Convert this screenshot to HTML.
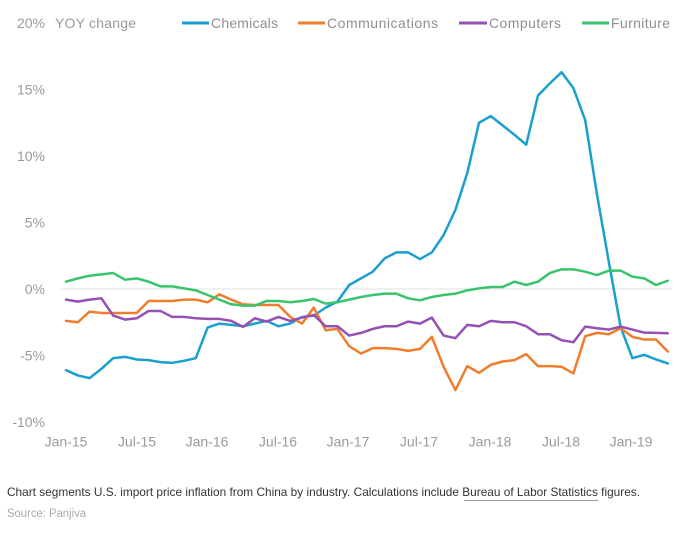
<!DOCTYPE html>
<html><head><meta charset="utf-8"><style>
html,body{margin:0;padding:0;background:#fff;}
svg{display:block;}
text{font-family:"Liberation Sans",sans-serif;}
</style></head><body>
<svg width="700" height="536" viewBox="0 0 700 536" xmlns="http://www.w3.org/2000/svg">
<rect width="700" height="536" fill="#fff"/>
<!-- y labels -->
<g font-size="14" fill="#9a9a9a" text-anchor="end">
<text x="45" y="28">20%</text>
<text x="45" y="94.5">15%</text>
<text x="45" y="161">10%</text>
<text x="45" y="227.5">5%</text>
<text x="45" y="294">0%</text>
<text x="45" y="360.5">-5%</text>
<text x="45" y="427">-10%</text>
</g>
<text x="55" y="28" font-size="14" fill="#9a9a9a" textLength="81">YOY change</text>
<!-- legend -->
<g stroke-width="3">
<line x1="182" y1="23" x2="209" y2="23" stroke="#1a9fd0"/>
<line x1="298" y1="23" x2="325" y2="23" stroke="#ef7d2d"/>
<line x1="459" y1="23" x2="487" y2="23" stroke="#9450b5"/>
<line x1="582" y1="23" x2="609" y2="23" stroke="#38c46c"/>
</g>
<g font-size="14" fill="#8f8f8f">
<text x="211" y="28" textLength="67">Chemicals</text>
<text x="327" y="28" textLength="111">Communications</text>
<text x="489" y="28" textLength="72">Computers</text>
<text x="611" y="28" textLength="59">Furniture</text>
</g>
<!-- zero line -->
<line x1="60" y1="289" x2="672" y2="289" stroke="#e2e2e2" stroke-width="1"/>
<!-- series -->
<g transform="translate(66,289) scale(11.8,-13.3)" fill="none" stroke-width="2.5" stroke-linejoin="round" stroke-linecap="round">
<polyline vector-effect="non-scaling-stroke" stroke="#1a9fd0" points="0,-6.1 1,-6.5 2,-6.7 3,-6.0 4,-5.2 5,-5.1 6,-5.3 7,-5.35 8,-5.5 9,-5.55 10,-5.4 11,-5.2 12,-2.9 13,-2.6 14,-2.7 15,-2.8 16,-2.6 17,-2.4 18,-2.8 19,-2.6 20,-2.1 21,-2.0 22,-1.4 23,-0.95 24,0.3 25,0.8 26,1.3 27,2.3 28,2.75 29,2.75 30,2.25 31,2.75 32,4.05 33,5.95 34,8.7 35,12.5 36,13.0 37,12.3 38,11.6 39,10.85 40,14.55 41,15.45 42,16.3 43,15.1 44,12.7 45,7.1 46,2.05 47,-2.85 48,-5.2 49,-4.95 50,-5.3 51,-5.6"/>
<polyline vector-effect="non-scaling-stroke" stroke="#ef7d2d" points="0,-2.4 1,-2.5 2,-1.7 3,-1.8 4,-1.8 5,-1.8 6,-1.8 7,-0.9 8,-0.9 9,-0.9 10,-0.8 11,-0.8 12,-1.0 13,-0.4 14,-0.8 15,-1.15 16,-1.2 17,-1.2 18,-1.2 19,-2.1 20,-2.6 21,-1.4 22,-3.1 23,-3.0 24,-4.3 25,-4.85 26,-4.45 27,-4.45 28,-4.5 29,-4.65 30,-4.5 31,-3.6 32,-5.85 33,-7.6 34,-5.8 35,-6.3 36,-5.7 37,-5.45 38,-5.35 39,-4.9 40,-5.8 41,-5.8 42,-5.85 43,-6.35 44,-3.55 45,-3.3 46,-3.4 47,-2.95 48,-3.6 49,-3.8 50,-3.8 51,-4.7"/>
<polyline vector-effect="non-scaling-stroke" stroke="#9450b5" points="0,-0.8 1,-0.95 2,-0.8 3,-0.7 4,-2.0 5,-2.3 6,-2.2 7,-1.65 8,-1.65 9,-2.1 10,-2.1 11,-2.2 12,-2.25 13,-2.25 14,-2.4 15,-2.85 16,-2.2 17,-2.45 18,-2.1 19,-2.4 20,-2.15 21,-1.95 22,-2.8 23,-2.8 24,-3.5 25,-3.3 26,-3.0 27,-2.8 28,-2.8 29,-2.45 30,-2.6 31,-2.15 32,-3.5 33,-3.7 34,-2.7 35,-2.8 36,-2.4 37,-2.5 38,-2.5 39,-2.8 40,-3.4 41,-3.4 42,-3.85 43,-4.0 44,-2.83 45,-2.95 46,-3.05 47,-2.83 48,-3.05 49,-3.28 50,-3.3 51,-3.33"/>
<polyline vector-effect="non-scaling-stroke" stroke="#38c46c" points="0,0.55 1,0.8 2,1.0 3,1.1 4,1.2 5,0.7 6,0.8 7,0.55 8,0.2 9,0.2 10,0.05 11,-0.1 12,-0.45 13,-0.8 14,-1.15 15,-1.25 16,-1.25 17,-0.9 18,-0.9 19,-1.0 20,-0.9 21,-0.75 22,-1.1 23,-1.0 24,-0.8 25,-0.6 26,-0.45 27,-0.35 28,-0.35 29,-0.7 30,-0.85 31,-0.6 32,-0.45 33,-0.35 34,-0.1 35,0.05 36,0.15 37,0.15 38,0.55 39,0.3 40,0.55 41,1.2 42,1.48 43,1.48 44,1.3 45,1.05 46,1.38 47,1.38 48,0.93 49,0.8 50,0.3 51,0.62"/>
</g>
<!-- x labels -->
<g font-size="14" fill="#9a9a9a" text-anchor="middle">
<text x="66" y="446.5">Jan-15</text>
<text x="137" y="446.5">Jul-15</text>
<text x="207" y="446.5">Jan-16</text>
<text x="278" y="446.5">Jul-16</text>
<text x="348" y="446.5">Jan-17</text>
<text x="419" y="446.5">Jul-17</text>
<text x="490" y="446.5">Jan-18</text>
<text x="561" y="446.5">Jul-18</text>
<text x="631" y="446.5">Jan-19</text>
</g>
<!-- caption -->
<text x="7" y="496" font-size="12" fill="#333" textLength="633" lengthAdjust="spacingAndGlyphs">Chart segments U.S. import price inflation from China by industry. Calculations include Bureau of Labor Statistics figures.</text>
<line x1="464" y1="500.5" x2="598" y2="500.5" stroke="#9a9a9a" stroke-width="1"/>
<text x="7" y="517" font-size="11.5" fill="#aaaaaa" textLength="79" lengthAdjust="spacingAndGlyphs">Source: Panjiva</text>
</svg>
</body></html>
